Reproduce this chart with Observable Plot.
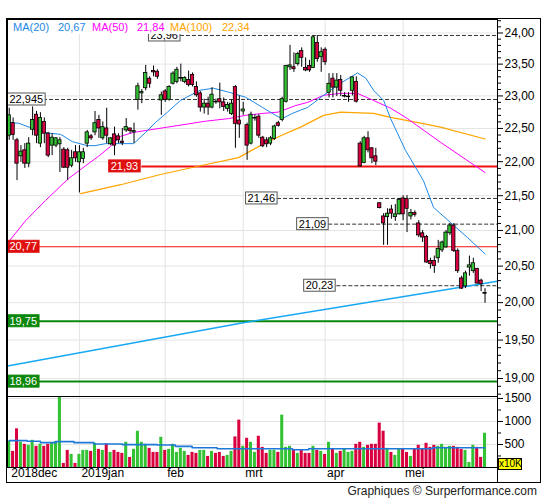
<!DOCTYPE html>
<html><head><meta charset="utf-8">
<script src="https://cdn.jsdelivr.net/npm/d3@7"></script>
<script src="https://cdn.jsdelivr.net/npm/@observablehq/plot@0.6"></script>
<style>
body{margin:0;background:#fff;font-family:"Liberation Sans",Arial,sans-serif;}
#wrap{position:relative;width:545px;height:500px;overflow:hidden;background:#fff;}
#wrap svg{position:absolute;left:0;}
#border{position:absolute;box-sizing:border-box;left:6px;top:18px;width:535px;height:465px;border:1px solid #000;pointer-events:none;}
#vline{position:absolute;left:496.5px;top:467px;width:1px;height:15px;background:#000;}
#legend{position:absolute;left:8px;top:20px;width:245px;height:14px;background:#fff;font-size:11px;line-height:14px;}
#legend span{position:absolute;top:0;white-space:nowrap;}
#x10k{position:absolute;left:498px;top:458px;width:24px;height:12px;box-sizing:border-box;background:#ffff00;border:1px solid #000;font-size:10px;line-height:10px;text-align:center;}
#credit{position:absolute;right:8px;top:484px;font-size:12px;color:#222;white-space:nowrap;}
</style></head>
<body><div id="wrap"></div>
<script>
// ---------- data ----------
const open = [
22.39,22.58,22.32,22.08,22.17,21.97,22.48,22.71,22.27,22.60,
22.42,22.24,22.24,22.26,22.18,22.17,21.94,22.14,21.99,22.04,
22.27,22.38,22.44,22.63,22.35,22.50,22.26,22.41,22.38,22.30,
22.47,22.50,22.44,22.94,23.04,23.12,23.27,23.39,23.38,22.93,
23.07,22.94,23.19,23.22,23.27,23.22,23.25,23.33,23.14,23.04,
22.82,22.88,22.82,22.91,22.95,22.90,22.80,22.72,23.14,22.62,
22.76,22.55,22.27,22.65,22.68,22.36,22.32,22.27,22.34,22.58,
22.63,22.91,23.45,23.45,23.50,23.71,23.44,23.47,23.44,23.84,
23.61,23.73,23.05,23.27,23.13,23.25,22.99,22.98,23.08,23.22,
22.27,21.98,22.35,22.20,22.08,21.39,21.20,21.19,21.30,21.19,
21.23,21.46,21.45,21.20,21.25,21.10,20.96,20.91,20.57,20.57,
20.61,20.72,20.76,20.96,21.07,20.71,20.33,20.22,20.48,20.43,
20.46,20.30,20.12];
const high = [
22.81,22.66,22.35,22.24,22.27,22.36,22.83,22.76,22.74,22.66,
22.44,22.42,22.36,22.36,22.21,22.20,22.17,22.24,22.24,22.20,
22.47,22.41,22.76,22.70,22.60,22.81,22.36,22.52,22.42,22.50,
22.65,22.50,22.58,23.20,23.10,23.48,23.30,23.47,23.41,23.06,
23.10,23.16,23.38,23.45,23.50,23.30,23.39,23.36,23.22,23.07,
22.95,22.98,23.13,22.95,23.20,22.97,22.90,22.94,23.16,23.00,
22.90,22.58,22.75,22.71,22.71,22.38,22.36,22.38,22.55,22.61,
22.98,23.48,23.80,23.68,23.69,23.76,23.60,23.56,23.95,23.96,
23.76,23.76,23.35,23.35,23.35,23.32,23.05,23.05,23.30,23.30,
22.30,22.38,22.45,22.21,22.20,21.40,21.24,21.31,21.36,21.37,
21.46,21.50,21.50,21.30,21.28,21.14,21.00,20.93,20.61,20.64,
20.86,20.85,21.00,21.10,21.10,20.74,20.36,20.43,20.64,20.61,
20.47,20.32,20.19];
const low = [
22.32,22.32,21.72,21.99,21.90,21.91,22.39,22.27,22.21,22.27,
22.06,22.09,22.21,21.84,21.90,21.72,21.91,21.99,21.54,21.97,
22.21,22.32,22.39,22.35,22.32,22.27,22.24,22.09,22.27,22.24,
22.44,22.42,22.27,22.78,22.88,23.08,23.12,23.30,23.26,22.70,
22.90,22.92,23.17,23.19,23.22,23.19,23.14,23.14,22.98,22.75,
22.72,22.70,22.80,22.87,22.80,22.76,22.75,22.70,22.20,22.35,
22.70,22.02,22.25,22.61,22.35,22.21,22.21,22.24,22.32,22.52,
22.60,22.89,23.40,23.37,23.47,23.45,23.38,23.37,23.43,23.53,
23.37,23.48,22.97,22.97,22.99,22.99,22.97,22.90,23.00,22.89,
21.92,21.97,22.13,21.97,21.94,21.31,20.79,20.79,21.16,21.13,
21.22,21.14,20.97,21.15,21.19,20.90,20.83,20.54,20.46,20.40,
20.54,20.69,20.75,20.93,20.69,20.40,20.18,20.19,20.36,20.40,
20.25,20.15,19.99];
const close = [
22.70,22.40,21.97,22.15,21.97,22.27,22.63,22.39,22.66,22.42,
22.09,22.36,22.35,22.32,21.91,21.91,22.05,22.05,22.14,22.14,
22.44,22.35,22.58,22.50,22.52,22.39,22.35,22.24,22.32,22.28,
22.52,22.46,22.46,23.15,23.06,23.36,23.19,23.37,23.30,23.01,
22.94,23.14,23.35,23.41,23.28,23.28,23.17,23.17,23.01,22.82,
22.88,22.82,23.02,22.90,22.90,22.83,22.86,22.88,22.57,22.56,
22.79,22.24,22.71,22.66,22.39,22.23,22.26,22.35,22.53,22.54,
22.95,23.47,23.48,23.42,23.66,23.60,23.40,23.40,23.93,23.58,
23.69,23.53,23.19,23.13,23.24,23.08,23.00,22.99,23.29,22.91,
21.93,22.35,22.17,22.05,22.00,21.32,21.10,21.24,21.24,21.23,
21.44,21.23,21.31,21.25,21.22,20.93,20.90,20.55,20.53,20.50,
20.74,20.83,20.97,21.07,20.71,20.43,20.19,20.40,20.51,20.54,
20.26,20.25,20.13];
const volume = [
570,350,840,548,504,482,591,460,504,460,
504,533,562,1600,88,372,285,88,285,372,
372,350,526,394,372,511,328,372,328,307,
548,219,394,788,548,504,416,328,328,657,
372,394,504,328,416,350,263,328,307,372,
372,241,350,307,328,241,263,350,664,1030,
460,635,548,328,679,438,307,372,372,328,
1139,438,460,394,307,372,307,307,460,372,
350,285,548,400,307,350,400,328,350,504,
548,438,482,504,504,964,788,416,328,263,
394,394,328,241,409,482,409,526,438,482,
460,504,438,460,460,438,394,372,110,482,
438,219,745];
const volumeDir = [
"G","R","R","G","R","G","G","R","G","R",
"R","G","G","G","R","R","G","R","G","G",
"G","R","G","R","G","R","G","R","R","R",
"G","R","G","G","G","G","R","R","R","G",
"R","G","G","G","G","G","R","R","R","G",
"G","R","G","R","R","R","G","G","R","R",
"G","R","G","G","R","R","R","G","G","R",
"G","G","G","R","G","R","R","R","G","R",
"G","R","G","R","G","R","G","G","G","R",
"R","G","R","R","R","R","R","G","R","G",
"G","R","R","G","R","R","R","R","R","R",
"G","G","G","G","R","R","R","G","G","G",
"R","R","G"];

// moving averages: [day index, value]
const ma20 = [[0,22.59],[2.4,22.58],[6,22.50],[10,22.43],[13.2,22.41],[16.2,22.30],[20,22.24],[22,22.24],[24.7,22.27],[31.9,22.27],[35,22.44],[37.5,22.59],[40.6,22.75],[43.9,22.93],[49,23.09],[52.4,23.12],[56.2,23.06],[60.6,22.98],[65,22.82],[68.3,22.70],[70,22.65],[72.6,22.73],[74.7,22.78],[76.5,22.82],[80.6,23.01],[85,23.20],[89.3,23.36],[91.4,23.28],[93.4,23.09],[96,22.93],[97.8,22.65],[101.6,22.17],[106.2,21.72],[108.8,21.33],[113.2,21.11],[117.5,20.90],[122,20.67]];
const ma50 = [[0,20.85],[4.2,21.14],[9.3,21.43],[15.2,21.75],[19.6,21.94],[22.9,22.08],[26,22.23],[28.5,22.38],[31.9,22.44],[40.6,22.52],[50.3,22.61],[56.2,22.65],[60.6,22.70],[65,22.73],[69,22.75],[73.4,22.85],[76.5,22.90],[80.6,23.01],[85,23.04],[89.3,23.04],[93.4,22.93],[97.8,22.81],[102.1,22.65],[110.6,22.29],[122,21.84]];
const ma100 = [[18.3,21.53],[28.6,21.66],[38.8,21.81],[49,21.94],[58.8,22.06],[64.4,22.24],[69.6,22.39],[74.7,22.52],[80.6,22.70],[85,22.75],[93.4,22.73],[97.8,22.67],[105.5,22.58],[110.6,22.52],[122,22.34]];
const trend = [[-0.44,19.16],[60,19.73],[125.2,20.29]];
const volumeMA = [[0,584],[4.6,570],[8,540],[11.9,562],[16.6,540],[21.7,511],[29,497],[37.9,490],[42.6,460],[46.9,430],[53.3,409],[72.6,387],[76.8,409],[108.5,430],[122,430]];

// reference levels: value, label day, line start day
const dashedLevels = [23.96, 22.945, 21.46, 21.09, 20.23];
const dashedLabelDay = [35.7, -0.44, 60.6, 73.7, 75.5];
const dashedStartDay = [43.9, 8.8, 68.8, 81.9, 84.0];
const redLevels = [21.93, 20.77];
const redLabelDay = [25.5, -0.44];
const redStartDay = [34.0, -0.44];
const redWidth = [2, 1];
const greenLevels = [19.75, 18.96];

const monthDay = [0, 18, 40, 60, 81, 101];
const monthLabels = ["2018dec", "2019jan", "feb", "mrt", "apr", "mei"];
const priceTicks = [19, 19.5, 20, 20.5, 21, 21.5, 22, 22.5, 23, 23.5, 24];
const volumeTicks = [500, 1000, 1500];
const volumeMinor = [250, 750, 1250];
const legendItems = [["MA(20)", "20,67", "#1e88e5"], ["MA(50)", "21,84", "#ff00ff"], ["MA(100)", "22,34", "#ffa500"]];

// ---------- build ----------
const GREEN = "#33c233", RED = "#d8003f";
const candles = open.map((o, i) => ({i, o, h: high[i], l: low[i], c: close[i]}));
const vols = volume.map((v, i) => ({i, v, d: volumeDir[i]}));
const xDomain = [-0.44, 125.2];
const fmt = v => String(v).replace(".", ",");
const fmt2 = v => v.toFixed(2).replace(".", ",");
const minorPrice = d3.range(188, 243).map(d => d / 10).filter(d => !priceTicks.some(t => Math.abs(t - d) < 1e-6));
const dashed = dashedLevels.map((v, k) => ({v, lab: dashedLabelDay[k], start: dashedStartDay[k]}));
const reds = redLevels.map((v, k) => ({v, lab: redLabelDay[k], start: redStartDay[k], w: redWidth[k]}));
const greens = greenLevels.map(v => ({v}));
const font = "'Liberation Sans', Arial, sans-serif";

const price = Plot.plot({
  width: 545, height: 396,
  marginLeft: 7, marginRight: 48, marginTop: 19, marginBottom: 0,
  x: {domain: xDomain, axis: null},
  y: {type: "log", domain: [18.77, 24.22], axis: null},
  style: {fontFamily: font, fontSize: "12px", color: "#000", background: "none"},
  marks: [
    Plot.gridY(priceTicks, {stroke: "#e4e4e4", strokeOpacity: 1}),
    Plot.gridX(monthDay.slice(1), {stroke: "#e4e4e4", strokeOpacity: 1}),
    Plot.ruleY(dashed, {y: "v", x1: "start", x2: xDomain[1], stroke: "#333", strokeDasharray: "4,2"}),
    Plot.ruleY(greens, {y: "v", x1: xDomain[0], x2: xDomain[1], stroke: "#0b870b", strokeWidth: 2}),
    Plot.ruleY(reds, {y: "v", x1: "start", x2: xDomain[1], stroke: "#ee1010", strokeWidth: "w"}),
    Plot.line(trend, {x: d => d[0], y: d => d[1], stroke: "#17a8f5", strokeWidth: 1.5}),
    Plot.line(ma100, {x: d => d[0], y: d => d[1], stroke: "#ffa500", strokeWidth: 1.2}),
    Plot.line(ma50, {x: d => d[0], y: d => d[1], stroke: "#ff00ff", strokeWidth: 1}),
    Plot.line(ma20, {x: d => d[0], y: d => d[1], stroke: "#1e88e5", strokeWidth: 1}),
    Plot.ruleX(candles, {x: "i", y1: "l", y2: "h", stroke: "#000", strokeWidth: 1}),
    Plot.rect(candles, {x1: d => d.i - 0.42, x2: d => d.i + 0.42, y1: "o", y2: "c",
      fill: d => d.c >= d.o ? GREEN : RED, stroke: "#000", strokeWidth: 0.8}),
    Plot.text(dashed, {x: "lab", y: "v", text: d => fmt(d.v), textAnchor: "start", dx: 2, fill: "#000", fontSize: 11}),
    Plot.text(reds, {x: "lab", y: "v", text: d => fmt2(d.v), textAnchor: "start", dx: 2, fill: "#fff", fontSize: 11}),
    Plot.text(greens, {x: xDomain[0], y: "v", text: d => fmt2(d.v), textAnchor: "start", dx: 2, fill: "#fff", fontSize: 11}),
    Plot.axisY(minorPrice, {anchor: "right", tickSize: 3, tickFormat: () => "", label: null}),
    Plot.axisY(priceTicks, {anchor: "right", tickSize: 5, tickPadding: 2, tickFormat: fmt2, label: null}),
    Plot.frame({stroke: "#000"})
  ]
});

const vol = Plot.plot({
  width: 545, height: 115,
  marginLeft: 7, marginRight: 48, marginTop: 11, marginBottom: 33,
  x: {domain: xDomain, axis: null},
  y: {domain: [0, 1543], axis: null},
  style: {fontFamily: font, fontSize: "12px", color: "#000", background: "none"},
  marks: [
    Plot.gridY(volumeTicks, {stroke: "#e4e4e4", strokeOpacity: 1}),
    Plot.gridX(monthDay.slice(1), {stroke: "#e4e4e4", strokeOpacity: 1}),
    Plot.rect(vols, {x1: d => d.i - 0.39, x2: d => d.i + 0.39, y1: 0, y2: "v",
      fill: d => d.d === "G" ? GREEN : RED, clip: true}),
    Plot.line(volumeMA, {x: d => d[0], y: d => d[1], curve: "step-after", stroke: "#1e78d8", strokeWidth: 1.6}),
    Plot.axisY(volumeMinor, {anchor: "right", tickSize: 3, tickFormat: () => "", label: null}),
    Plot.axisY(volumeTicks, {anchor: "right", tickSize: 5, tickPadding: 2, tickFormat: d => String(d), label: null}),
    Plot.axisX(monthDay, {anchor: "bottom", tickSize: 0, tickPadding: 1, textAnchor: "start", dx: 2,
      tickFormat: d => monthLabels[monthDay.indexOf(d)], label: null}),
    Plot.frame({stroke: "#000"})
  ]
});

const wrap = document.getElementById("wrap");
price.style.top = "0px";
vol.style.top = "385px";
wrap.appendChild(price);
wrap.appendChild(vol);

// label boxes behind the level labels (in mark order: dashed, red, green)
const textGroups = Array.from(price.querySelectorAll('g[aria-label="text"]'));
const boxStyles = [["#fff", "#555"], ["#e01010", "#e01010"], ["#0b870b", "#0b870b"]];
textGroups.forEach((g, k) => {
  const [fill, stroke] = boxStyles[k] || boxStyles[0];
  Array.from(g.querySelectorAll("text")).forEach(t => {
    const b = t.getBBox();
    const r = document.createElementNS("http://www.w3.org/2000/svg", "rect");
    r.setAttribute("x", b.x - 2); r.setAttribute("y", b.y);
    r.setAttribute("width", b.width + 4); r.setAttribute("height", b.height);
    r.setAttribute("fill", fill); r.setAttribute("stroke", stroke); r.setAttribute("stroke-width", 1);
    const tr = t.getAttribute("transform");
    if (tr) r.setAttribute("transform", tr);
    g.insertBefore(r, t);
  });
});

// frame, legend, caption
const border = document.createElement("div"); border.id = "border"; wrap.appendChild(border);
const vline = document.createElement("div"); vline.id = "vline"; wrap.appendChild(vline);
const legend = document.createElement("div"); legend.id = "legend";
const legendX = [5, 50, 84, 129, 162, 214];
legendItems.forEach((it, k) => {
  [it[0], it[1]].forEach((txt, j) => {
    const s = document.createElement("span");
    s.textContent = txt; s.style.color = it[2]; s.style.left = legendX[k * 2 + j] + "px";
    legend.appendChild(s);
  });
});
wrap.appendChild(legend);
const x10k = document.createElement("div"); x10k.id = "x10k"; x10k.textContent = "x10K"; wrap.appendChild(x10k);
const credit = document.createElement("div"); credit.id = "credit"; credit.textContent = "Graphiques © Surperformance.com"; wrap.appendChild(credit);
</script>
</body></html>
